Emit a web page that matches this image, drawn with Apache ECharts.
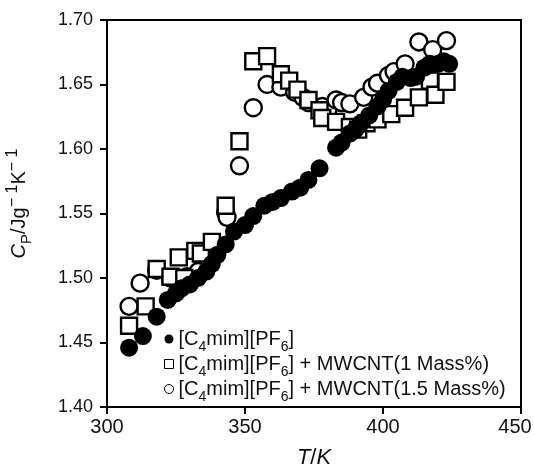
<!DOCTYPE html>
<html><head><meta charset="utf-8">
<script src="https://cdn.jsdelivr.net/npm/echarts@6/dist/echarts.min.js"></script>
<style>html,body{margin:0;padding:0;background:#fff}#c{width:534px;height:469px}</style>
</head><body><div id="c"></div>
<script>
const seriesNames = ['[C4mim][PF6]', '[C4mim][PF6] + MWCNT(1 Mass%)', '[C4mim][PF6] + MWCNT(1.5 Mass%)'];
const xTicks = [300, 350, 400, 450];
const yTicks = [1.40, 1.45, 1.50, 1.55, 1.60, 1.65, 1.70];
const pureIL = [[308,1.446],[313,1.455],[318,1.470],[322,1.483],[325,1.488],[327,1.492],[330,1.495],[333,1.500],[336,1.505],[338,1.511],[340,1.518],[343,1.526],[346,1.536],[350,1.541],[353,1.548],[357,1.556],[360,1.559],[363,1.562],[367,1.567],[370,1.570],[373,1.576],[377,1.585],[383,1.601],[385,1.605],[388,1.612],[390,1.615],[392,1.620],[395,1.626],[398,1.633],[400,1.638],[402,1.645],[405,1.652],[407,1.656],[410,1.655],[412,1.656],[415,1.663],[417,1.666],[420,1.666],[422,1.668],[424,1.666]];
const mw1 = [[308,1.463],[314,1.478],[318,1.507],[323,1.501],[326,1.516],[328,1.500],[332,1.521],[334,1.519],[338,1.528],[343,1.556],[348,1.606],[353,1.668],[358,1.672],[363,1.658],[366,1.653],[369,1.646],[373,1.638],[377,1.630],[378,1.624],[383,1.621],[388,1.617],[391,1.615],[394,1.620],[398,1.623],[403,1.627],[408,1.632],[413,1.640],[417,1.653],[419,1.642],[423,1.652]];
const mw15 = [[308,1.478],[312,1.496],[318,1.506],[323,1.500],[326,1.499],[329,1.501],[333,1.505],[338,1.524],[343,1.551],[343.5,1.547],[348,1.587],[353,1.632],[358,1.650],[363,1.648],[368,1.644],[371,1.640],[373,1.636],[378,1.633],[380,1.630],[383,1.638],[385,1.636],[388,1.635],[393,1.640],[396,1.648],[398,1.651],[402,1.657],[404,1.660],[408,1.666],[413,1.683],[418,1.677],[423,1.684]];

const FONT = 'Liberation Sans, Arial, sans-serif';
const chart = echarts.init(document.getElementById('c'), null, {renderer:'canvas'});
const richTxt = {
  n: {fontSize: 20, fontFamily: FONT, color:'#111', lineHeight: 20, verticalAlign:'bottom'},
  s: {fontSize: 14, fontFamily: FONT, color:'#111', lineHeight: 14, verticalAlign:'bottom', padding:[0,0,-5,0]}
};
chart.setOption({
  animation: false,
  backgroundColor: '#fff',
  grid: {left: 107, right: 13, top: 20, bottom: 62, show: true, borderColor: '#000', borderWidth: 2,
         containLabel: false, outerBoundsMode: 'none'},
  legend: {
    orient: 'vertical', left: 164, top: 329, itemGap: 0, itemWidth: 9, itemHeight: 9, padding: 0,
    textStyle: {fontSize: 20, fontFamily: FONT, color: '#111', rich: richTxt},
    formatter: function(name){
      let s = name.replace('C4','C}{s|4}{n|').replace('PF6','PF}{s|6}{n|');
      return '{n|' + s + '}';
    },
    data: [
      {name: seriesNames[0], icon: 'circle', itemStyle: {color:'#000', borderWidth:0}},
      {name: seriesNames[1], icon: 'rect', itemStyle: {color:'#fff', borderColor:'#000', borderWidth:1}},
      {name: seriesNames[2], icon: 'circle', itemStyle: {color:'#fff', borderColor:'#000', borderWidth:1}}
    ]
  },
  xAxis: {
    type: 'value', min: xTicks[0], max: xTicks[xTicks.length-1], interval: 50,
    name: '{i|T}{n|/}{i|K}', nameLocation: 'middle', nameGap: 40,
    nameTextStyle: {fontSize: 22, fontFamily: FONT, color:'#111', rich: {
      i:{fontSize:22, fontStyle:'italic', fontFamily: FONT, color:'#111'},
      n:{fontSize:22, fontFamily: FONT, color:'#111'}}},
    axisLine: {onZero:false, lineStyle: {color:'#000', width: 2}},
    axisTick: {show: true, inside: false, length: 7, lineStyle:{color:'#000', width:2}},
    axisLabel: {fontSize: 20, fontFamily: FONT, color: '#111', margin: 10,
      formatter: v => v === xTicks[xTicks.length-1] ? '{r|' + v + '}' : String(v),
      rich: {r: {fontSize: 20, fontFamily: FONT, color: '#111', padding: [0, 12, 0, 0]}}},
    splitLine: {show: false}
  },
  yAxis: {
    type: 'value', min: yTicks[0], max: yTicks[yTicks.length-1], interval: 0.05,
    name: '{i|C}{s|P}{n|/Jg}{u|− 1}{n|K}{u|− 1}', nameLocation: 'middle', nameGap: 78, nameRotate: 90,
    nameTextStyle: {fontSize: 20, fontFamily: FONT, color:'#111', padding: [0,0,0,20], rich: {
      i:{fontSize:20, fontStyle:'italic', fontFamily: FONT, color:'#111', lineHeight: 24, verticalAlign:'bottom'},
      n:{fontSize:20, fontFamily: FONT, color:'#111', lineHeight: 24, verticalAlign:'bottom'},
      s:{fontSize:15, fontFamily: FONT, color:'#111', lineHeight: 24, verticalAlign:'bottom', padding:[0,0,-5,0]},
      u:{fontSize:16, fontFamily: FONT, color:'#111', lineHeight: 24, verticalAlign:'top', padding:[0,0,0,0]}
    }},
    axisLine: {onZero:false, lineStyle: {color:'#000', width: 2}},
    axisTick: {show: true, inside: false, length: 7, lineStyle:{color:'#000', width:2}},
    axisLabel: {fontSize: 18, fontFamily: FONT, color: '#111', margin: 14, formatter: v => v.toFixed(2)},
    splitLine: {show: false}
  },
  series: [
    {name: seriesNames[2], type: 'scatter', data: mw15, symbol: 'circle', symbolSize: 17, z: 2,
     itemStyle: {color: '#fff', borderColor: '#000', borderWidth: 2.4, opacity: 1}},
    {name: seriesNames[1], type: 'scatter', data: mw1, symbol: 'rect', symbolSize: 16, z: 3,
     itemStyle: {color: '#fff', borderColor: '#000', borderWidth: 2.4, opacity: 1}},
    {name: seriesNames[0], type: 'scatter', data: pureIL, symbol: 'circle', symbolSize: 18, z: 4,
     itemStyle: {color: '#000', borderWidth: 0, opacity: 1}}
  ]
});
</script></body></html>
